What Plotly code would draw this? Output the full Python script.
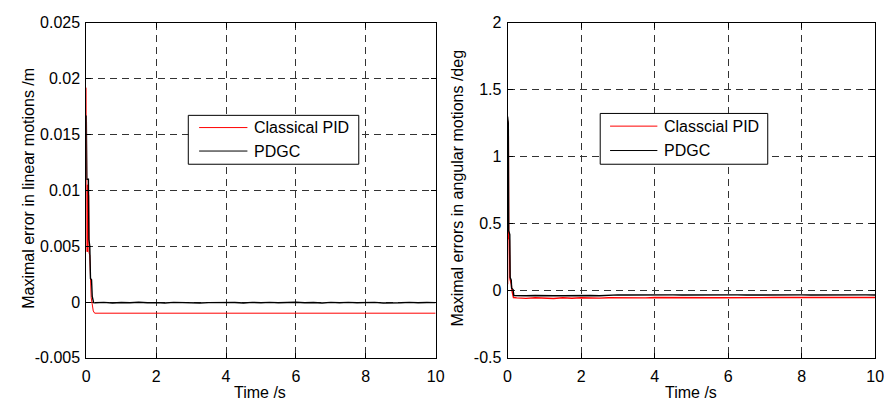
import plotly.graph_objects as go

# ---------------- data ----------------
# Left panel: maximal error in linear motions (m)
lin_t_pid = [0, 0.01, 0.02, 0.03, 0.04, 0.05, 0.06, 0.07, 0.08, 0.10, 0.14, 0.20, 0.24, 10]
lin_pid = [0.0192, 0.0110, 0.0045, 0.0105, 0.0045, 0.0100, 0.0046, 0.0095, 0.0044, 0.0042,
           0.0004, -0.0008, -0.0010, -0.0010]

lin_t_pdgc = [0, 0.015, 0.06, 0.075, 0.10, 0.12, 0.15, 0.17, 0.21,
              0.25, 0.5, 0.75, 1.0, 1.25, 1.5, 1.75, 2.0, 2.25, 2.5, 2.75, 3.0, 3.25, 3.5, 3.75,
              4.0, 4.25, 4.5, 4.75, 5.0, 5.25, 5.5, 5.75, 6.0, 6.25, 6.5, 6.75, 7.0, 7.25, 7.5,
              7.75, 8.0, 8.25, 8.5, 8.75, 9.0, 9.25, 9.5, 9.75, 10.0]
lin_pdgc = [0.0167, 0.0110, 0.0110, 0.0056, 0.0050, 0.0021, 0.0020, 0.0005, -0.00005,
            -0.00007, -0.00003, -0.00008, -0.00004, -0.00007, -0.00002, -0.00007, -0.00005,
            -0.00008, -0.00003, -0.00006, -0.00003, -0.00008, -0.00005, -0.00003, -0.00007,
            -0.00004, -0.00008, -0.00003, -0.00006, -0.00003, -0.00007, -0.00005, -0.00002,
            -0.00007, -0.00004, -0.00008, -0.00003, -0.00006, -0.00003, -0.00007, -0.00005,
            -0.00003, -0.00008, -0.00004, -0.00006, -0.00003, -0.00007, -0.00004, -0.00005]

# Right panel: maximal errors in angular motions (deg)
ang_t_pid = [0, 0.005, 0.02, 0.03, 0.05, 0.065, 0.10, 0.12, 0.16,
             0.25, 0.5, 0.75, 1.0, 1.25, 1.5, 1.75, 2.0, 2.25, 2.5, 2.75, 3.0, 3.25, 3.5, 3.75,
             4.0, 4.25, 4.5, 4.75, 5.0, 5.25, 5.5, 5.75, 6.0, 6.25, 6.5, 6.75, 7.0, 7.25, 7.5,
             7.75, 8.0, 8.25, 8.5, 8.75, 9.0, 9.25, 9.5, 9.75, 10.0]
ang_pid = [0.05, 1.27, 1.20, 0.40, 0.38, 0.09, 0.05, 0.00, -0.050,
           -0.052, -0.056, -0.051, -0.054, -0.057, -0.051, -0.055, -0.051, -0.053, -0.054,
           -0.051, -0.052, -0.050, -0.051, -0.052, -0.050, -0.051, -0.051, -0.050, -0.052,
           -0.050, -0.051, -0.051, -0.050, -0.052, -0.050, -0.050, -0.051, -0.050, -0.050,
           -0.051, -0.050, -0.050, -0.051, -0.050, -0.050, -0.051, -0.050, -0.050, -0.050]

ang_t_pdgc = [0, 0.02, 0.03, 0.06, 0.07, 0.10, 0.11, 0.15, 0.17,
              0.25, 0.5, 0.75, 1.0, 1.25, 1.5, 1.75, 2.0, 2.25, 2.5, 2.75, 3.0, 3.25, 3.5, 3.75,
              4.0, 4.25, 4.5, 4.75, 5.0, 5.25, 5.5, 5.75, 6.0, 6.25, 6.5, 6.75, 7.0, 7.25, 7.5,
              7.75, 8.0, 8.25, 8.5, 8.75, 9.0, 9.25, 9.5, 9.75, 10.0]
ang_pdgc = [1.30, 1.25, 0.45, 0.42, 0.10, 0.08, 0.02, 0.01, -0.035,
            -0.036, -0.037, -0.035, -0.038, -0.036, -0.037, -0.035, -0.037, -0.035, -0.036,
            -0.032, -0.030, -0.031, -0.030, -0.031, -0.030, -0.032, -0.030, -0.031, -0.030,
            -0.031, -0.030, -0.031, -0.030, -0.030, -0.031, -0.030, -0.031, -0.030, -0.030,
            -0.031, -0.030, -0.031, -0.030, -0.030, -0.031, -0.031, -0.030, -0.030, -0.031]

x_ticks = [0, 2, 4, 6, 8, 10]
lin_yticks = [-0.005, 0, 0.005, 0.01, 0.015, 0.02, 0.025]
lin_ytext = ["-0.005", "0", "0.005", "0.01", "0.015", "0.02", "0.025"]
ang_yticks = [-0.5, 0, 0.5, 1, 1.5, 2]
ang_ytext = ["-0.5", "0", "0.5", "1", "1.5", "2"]

# ---------------- figure ----------------
W, H = 895, 410
FONT = "Liberation Sans, Arial, Helvetica, sans-serif"


def fx(p):
    return p / W


def fy(p):
    return 1 - p / H


fig = go.Figure()
fig.add_trace(go.Scatter(x=lin_t_pid, y=lin_pid, mode="lines", name="Classical PID",
                         line=dict(color="#ff0000", width=1), xaxis="x", yaxis="y"))
fig.add_trace(go.Scatter(x=lin_t_pdgc, y=lin_pdgc, mode="lines", name="PDGC",
                         line=dict(color="#000000", width=1.4), xaxis="x", yaxis="y"))
fig.add_trace(go.Scatter(x=ang_t_pid, y=ang_pid, mode="lines", name="Classcial PID",
                         line=dict(color="#ff0000", width=1.4), xaxis="x2", yaxis="y2"))
fig.add_trace(go.Scatter(x=ang_t_pdgc, y=ang_pdgc, mode="lines", name="PDGC",
                         line=dict(color="#000000", width=1.4), xaxis="x2", yaxis="y2"))

axis_common = dict(
    showline=True, linecolor="black", linewidth=1, mirror="ticks",
    ticks="inside", ticklen=5, tickcolor="black", tickwidth=1,
    showgrid=True, gridcolor="#333333", gridwidth=1, griddash="7px,5px",
    zeroline=False, tickfont=dict(family=FONT, size=16, color="black"),
)

x_dom_l = [fx(83.5), fx(438)]
x_dom_r = [fx(511), fx(884)]
y_dom = [fy(365), fy(15.5)]

fig.update_layout(
    width=W, height=H,
    margin=dict(l=0, r=0, t=0, b=0),
    paper_bgcolor="white", plot_bgcolor="white",
    showlegend=False,
    font=dict(family=FONT, size=16, color="black"),
    xaxis=dict(domain=x_dom_l, range=[0, 10], tickvals=x_ticks, anchor="y",
               ticklabelstandoff=4, **axis_common),
    yaxis=dict(domain=y_dom, range=[-0.005, 0.025], tickvals=lin_yticks, ticktext=lin_ytext,
               anchor="x", ticklabelstandoff=2, **axis_common),
    xaxis2=dict(domain=x_dom_r, range=[0, 10], tickvals=x_ticks, anchor="y2",
                ticklabelstandoff=4, **axis_common),
    yaxis2=dict(domain=y_dom, range=[-0.5, 2], tickvals=ang_yticks, ticktext=ang_ytext,
                anchor="x2", ticklabelstandoff=2, **axis_common),
)

annotations = []
shapes = []

# axis titles
annotations.append(dict(x=fx(260), y=fy(401), xref="paper", yref="paper", text="Time /s",
                        showarrow=False, xanchor="center", yanchor="middle",
                        font=dict(family=FONT, size=16)))
annotations.append(dict(x=fx(697), y=fy(401), xref="paper", yref="paper", text="Time /s",
                        showarrow=False, xanchor="center", yanchor="middle",
                        font=dict(family=FONT, size=16)))
annotations.append(dict(x=fx(25), y=fy(188), xref="paper", yref="paper",
                        text="Maximal error in linear motions /m", textangle=-90,
                        showarrow=False, xanchor="center", yanchor="middle",
                        font=dict(family=FONT, size=16)))
annotations.append(dict(x=fx(460), y=fy(188), xref="paper", yref="paper",
                        text="Maximal errors in angular motions /deg", textangle=-90,
                        showarrow=False, xanchor="center", yanchor="middle",
                        font=dict(family=FONT, size=16)))

# legends (boxed, one per panel)
legends = [
    dict(box=(187, 112, 360, 163), line_x=(198, 247), text_x=252,
         items=[("Classical PID", "#ff0000"), ("PDGC", "#000000")]),
    dict(box=(605, 110, 775, 163), line_x=(615, 663), text_x=668,
         items=[("Classcial PID", "#ff0000"), ("PDGC", "#000000")]),
]
for lg in legends:
    x0, y0, x1, y1 = lg["box"]
    shapes.append(dict(type="rect", xref="paper", yref="paper",
                       x0=fx(x0), x1=fx(x1), y0=fy(y0), y1=fy(y1),
                       line=dict(color="black", width=1), fillcolor="white", layer="above"))
    rows = [y0 + (y1 - y0) * 0.25, y0 + (y1 - y0) * 0.73]
    for (label, color), ry in zip(lg["items"], rows):
        shapes.append(dict(type="line", xref="paper", yref="paper",
                           x0=fx(lg["line_x"][0]), x1=fx(lg["line_x"][1]),
                           y0=fy(ry), y1=fy(ry), line=dict(color=color, width=1),
                           layer="above"))
        annotations.append(dict(x=fx(lg["text_x"]), y=fy(ry), xref="paper", yref="paper",
                                text=label, showarrow=False, xanchor="left",
                                yanchor="middle", font=dict(family=FONT, size=16)))

fig.update_layout(annotations=annotations, shapes=shapes)

fig.write_html("out.html")
